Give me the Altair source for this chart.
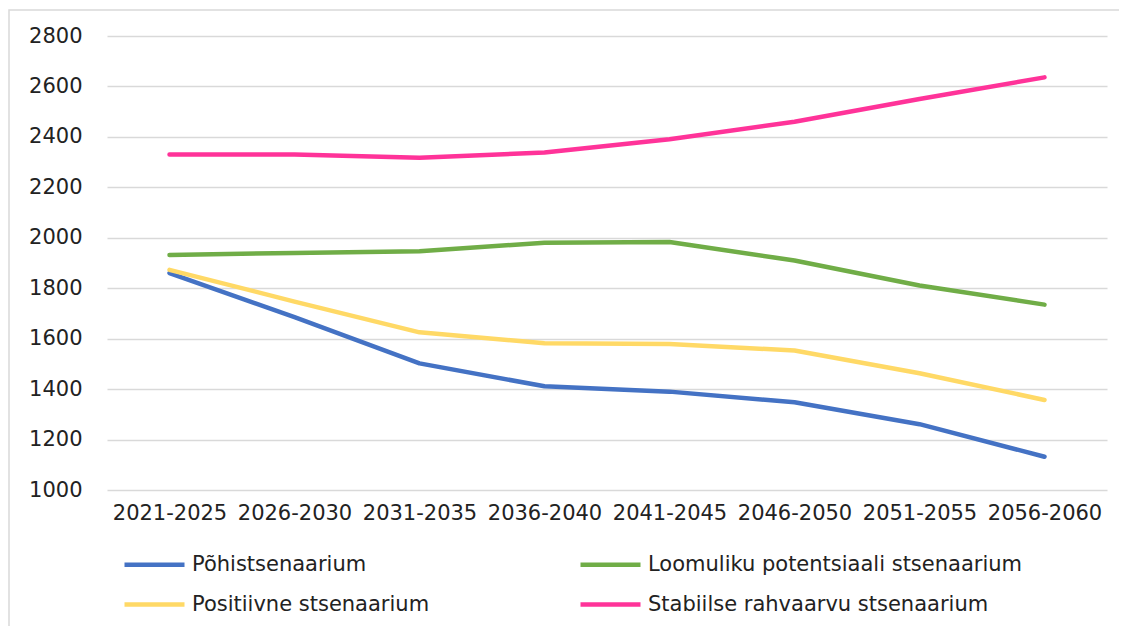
import altair as alt
import pandas as pd

periods = ["2021-2025", "2026-2030", "2031-2035", "2036-2040",
           "2041-2045", "2046-2050", "2051-2055", "2056-2060"]
series_names = ["Põhistsenaarium", "Positiivne stsenaarium",
                "Loomuliku potentsiaali stsenaarium", "Stabiilse rahvaarvu stsenaarium"]
pohi = [1860, 1685, 1502, 1411, 1390, 1348, 1261, 1132]
positiivne = [1873, 1747, 1625, 1582, 1579, 1553, 1463, 1357]
loomuliku = [1932, 1940, 1947, 1980, 1983, 1910, 1811, 1735]
stabiilse = [2330, 2330, 2317, 2338, 2391, 2460, 2550, 2636]
colors = ["#4472C4", "#FFD966", "#70AD47", "#FF3399"]
y_ticks = [1000, 1200, 1400, 1600, 1800, 2000, 2200, 2400, 2600, 2800]

rows = []
for name, vals in zip(series_names, [pohi, positiivne, loomuliku, stabiilse]):
    for p, v in zip(periods, vals):
        rows.append({"period": p, "value": v, "series": name})
df = pd.DataFrame(rows)

FONT = "DejaVu Sans"
FS = 21

border = alt.Chart(pd.DataFrame({"a": [0]})).mark_rect(
    fill=None, stroke="#d9d9d9", strokeWidth=1.5, clip=False
).encode(x=alt.value(-98), x2=alt.value(1300), y=alt.value(-26), y2=alt.value(800))

lines = alt.Chart(df).mark_line(
    interpolate="linear", strokeWidth=4.5, strokeCap="round",
    strokeJoin="round", clip=False
).encode(
    x=alt.X("period:N", sort=periods, title=None,
            scale=alt.Scale(type="point", padding=0.5),
            axis=alt.Axis(labelAngle=0, domain=False, ticks=False, grid=False,
                          labelPadding=12, labelFontSize=FS, labelFont=FONT,
                          labelColor="#222222")),
    y=alt.Y("value:Q", title=None,
            scale=alt.Scale(domain=[1000, 2800], nice=False, zero=False),
            axis=alt.Axis(values=y_ticks, format="d", domain=False, ticks=False,
                          gridColor="#d9d9d9", gridWidth=1.5,
                          labelPadding=25, labelFontSize=FS, labelFont=FONT,
                          labelColor="#222222")),
    color=alt.Color("series:N", sort=series_names,
                    scale=alt.Scale(domain=series_names, range=colors),
                    legend=alt.Legend(title=None, orient="none",
                                      legendX=35, legendY=516, columns=2,
                                      columnPadding=141, rowPadding=17,
                                      symbolType="M-3,0H3", symbolSize=400,
                                      symbolStrokeWidth=4.5, labelOffset=25,
                                      labelFontSize=FS, labelFont=FONT,
                                      labelColor="#222222", labelLimit=600,
                                      padding=0)),
)

chart = alt.layer(border, lines).properties(
    width=1000, height=454,
    padding={"left": 99, "top": 28, "right": 12, "bottom": 136},
    autosize=alt.AutoSizeParams(type="none"),
).configure_view(stroke=None)

chart.save("out.html", embed_options={"renderer": "svg", "actions": False})
